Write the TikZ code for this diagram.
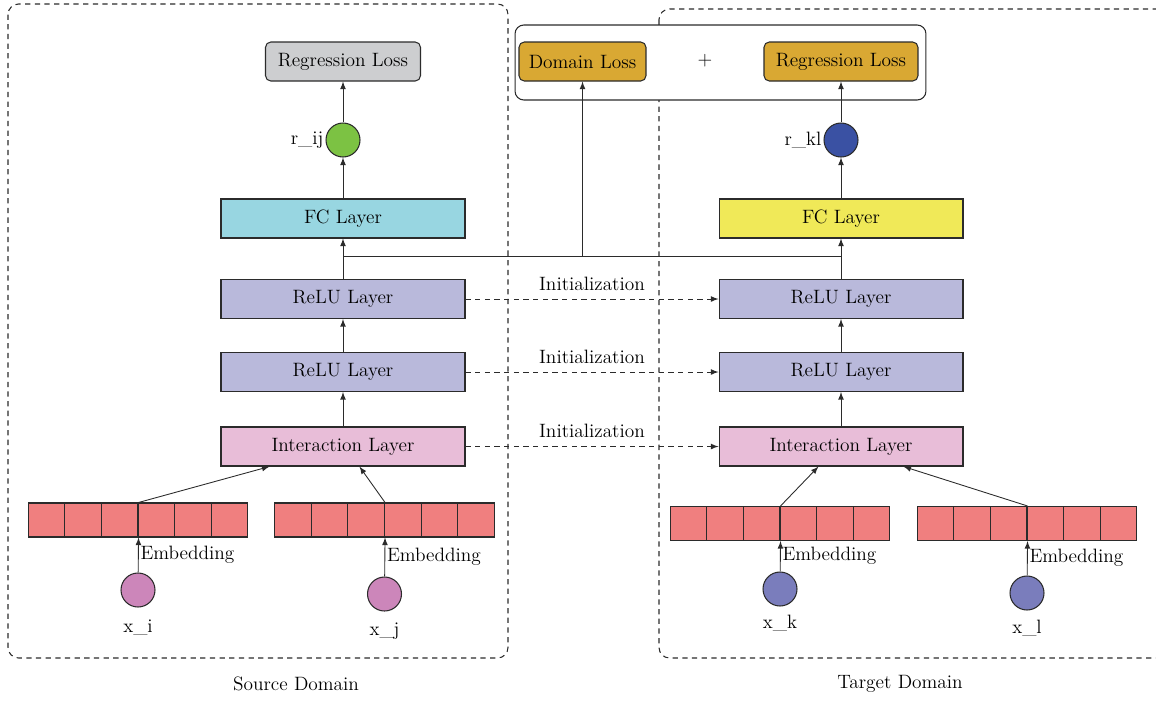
\documentclass[tikz,border=0pt]{standalone}
\usetikzlibrary{matrix}

\definecolor{linegray}{HTML}{2B2B2B}
\definecolor{lossgray}{HTML}{CDCED0}
\definecolor{lossgold}{HTML}{D9A833}
\definecolor{fccyan}{HTML}{98D6E1}
\definecolor{fcyellow}{HTML}{F0E958}
\definecolor{relublue}{HTML}{B9B9DB}
\definecolor{interpink}{HTML}{E8BDD8}
\definecolor{embred}{HTML}{F07F7F}
\definecolor{rgreen}{HTML}{7CC243}
\definecolor{rblue}{HTML}{3A51A3}
\definecolor{xpink}{HTML}{CC86BA}
\definecolor{xblue}{HTML}{7A7DBC}

\begin{document}
\begin{tikzpicture}[x=0.02cm, y=-0.02cm, >=latex,
every node/.style={inner sep=1pt, font=\fontsize{11}{13}\selectfont},
layer/.style={draw=linegray, line width=0.6pt, minimum width=4.88cm, minimum height=0.78cm},
loss/.style={draw=linegray, line width=0.6pt, rounded corners=3pt, minimum height=0.78cm},
neuron/.style={circle, draw=linegray, line width=0.6pt, minimum size=0.68cm, inner sep=0pt},
cell/.style={draw=linegray, fill=embred, line width=0.6pt, minimum width=0.733cm, minimum height=0.68cm, inner sep=0pt},
domainbox/.style={draw=linegray, line width=0.6pt, rounded corners=6pt, dash pattern=on 3pt off 2.5pt},
link/.style={->, draw=linegray, line width=0.5pt}
]
\useasboundingbox (0,0) rectangle (1156,701);

% domains
\draw[domainbox] (8,4) rectangle (508,658);
\draw[domainbox] (659,9) rectangle (1180,658);
\node (srcname) at (296,684) {Source Domain};
\node (tgtname) at (900,684) {Target Domain};

% losses
\node[draw=linegray, fill=white, line width=0.6pt, rounded corners=5pt,
      minimum width=8.22cm, minimum height=1.5cm] (lossbox) at (720.5,62.5) {};
\node[loss, fill=lossgray, minimum width=3.1cm] (regs) at (343,61.5) {Regression Loss};
\node[loss, fill=lossgold, minimum width=2.54cm] (doml) at (582.5,61.5) {Domain Loss};
\node (plus) at (705,61) {+};
\node[loss, fill=lossgold, minimum width=3.08cm] (regt) at (841,61.5) {Regression Loss};

\foreach \s/\x in {s/343, t/841}{
  \node[layer, fill=relublue] (relu1-\s) at (\x,299) {ReLU Layer};
  \node[layer, fill=relublue] (relu2-\s) at (\x,372) {ReLU Layer};
  \node[layer, fill=interpink] (inter-\s) at (\x,446.5) {Interaction Layer};
}
\node[layer, fill=fccyan] (fc-s) at (343,218.5) {FC Layer};
\node[layer, fill=fcyellow] (fc-t) at (841,218.5) {FC Layer};

\node[neuron, fill=rgreen] (rij) at (343,140) {};
\node[neuron, fill=rblue] (rkl) at (841,140) {};
\node[anchor=east] (rij-lab) at (rij.west) {r\_ij};
\node[anchor=east] (rkl-lab) at (rkl.west) {r\_kl};

% embeddings
\foreach \e/\x/\y in {ei/138/520, ej/384.5/520, ek/780/523.5, el/1027/523.5}
  \matrix (\e) [matrix of nodes, nodes in empty cells, nodes={cell}, column sep=-0.6pt,
                ampersand replacement=\&] at (\x,\y) {\&\&\&\&\&\\};

\foreach \n/\x/\y/\c in {xi/138/590/xpink, xj/384.5/594/xpink, xk/780/589/xblue, xl/1027/593/xblue}
  \node[neuron, fill=\c] (\n) at (\x,\y) {};
\node (xi-lab) at (138,627) {x\_i};
\node (xj-lab) at (384.5,631) {x\_j};
\node (xk-lab) at (780,623) {x\_k};
\node (xl-lab) at (1027,628) {x\_l};

\foreach \i/\j in {rij/regs, fc-s/rij, relu1-s/fc-s, relu2-s/relu1-s, inter-s/relu2-s,%
                   rkl/regt, fc-t/rkl, relu1-t/fc-t, relu2-t/relu1-t, inter-t/relu2-t%
            }
    \draw[link] (\i) -- (\j);

\foreach \x/\e in {xi/ei, xj/ej, xk/ek, xl/el}
    \draw[link] (\x) -- node[right] (emb-\x) {Embedding} (\e-1-3.south east);

\draw[link] (ei-1-3.north east) -- ([xshift=0.98cm]inter-s.south west);
\draw[link] (ej-1-3.north east) -- ([xshift=2.78cm]inter-s.south west);
\draw[link] (ek-1-3.north east) -- ([xshift=2cm]inter-t.south west);
\draw[link] (el-1-3.north east) -- ([xshift=3.7cm]inter-t.south west);

% shared branch to the domain loss
\path (relu1-s) -- (fc-s) coordinate[pos=0.55] (js);
\path (relu1-t) -- (fc-t) coordinate[pos=0.55] (jt);
\draw[line width=0.5pt, linegray] (js) -- (jt);
\draw[link] (js -| doml) -- (doml);

\foreach \a in {relu1, relu2, inter}
    \draw[link, dash pattern=on 3pt off 2.5pt] (\a-s) -- node[above=3.5pt] (init-\a) {Initialization} (\a-t);
%\draw[densely dotted] (relu1-s) -- (relu1-t);
\end{tikzpicture}
\end{document}
